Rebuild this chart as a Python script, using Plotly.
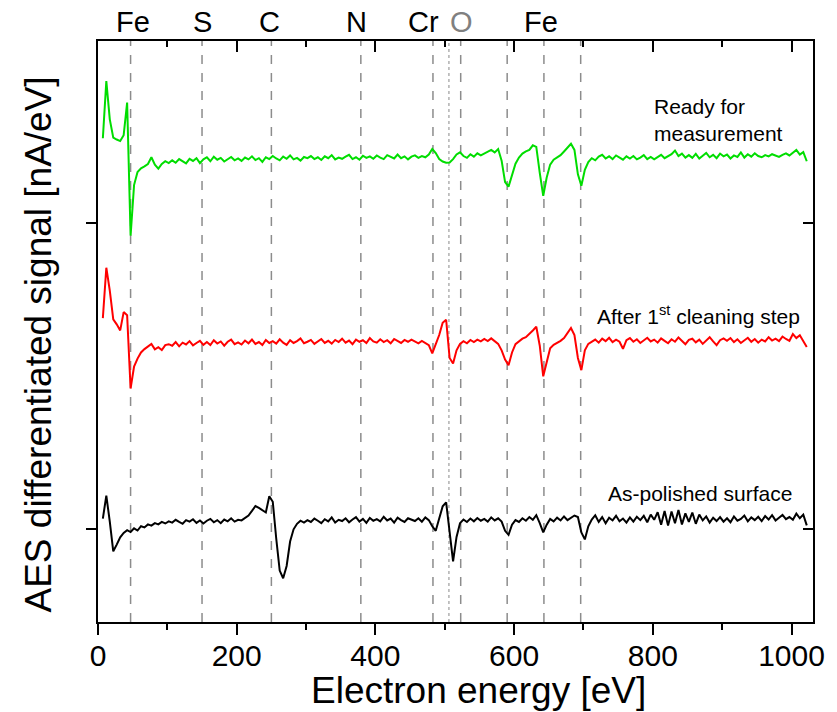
import plotly.graph_objects as go

# sampled electron energy [eV]
energy = [
    7, 12, 17, 22, 27, 32, 37, 42, 47, 52,
    57, 62, 67, 72, 77, 82, 87, 92, 97, 102,
    107, 112, 117, 122, 127, 132, 137, 142, 147, 152,
    157, 162, 167, 172, 177, 182, 187, 192, 197, 202,
    207, 212, 217, 222, 227, 232, 237, 242, 247, 252,
    257, 262, 267, 272, 277, 282, 287, 292, 297, 302,
    307, 312, 317, 322, 327, 332, 337, 342, 347, 352,
    357, 362, 367, 372, 377, 382, 387, 392, 397, 402,
    407, 412, 417, 422, 427, 432, 437, 442, 447, 452,
    457, 462, 467, 472, 477, 482, 487, 492, 497, 502,
    507, 512, 517, 522, 527, 532, 537, 542, 547, 552,
    557, 562, 567, 572, 577, 582, 587, 592, 597, 602,
    607, 612, 617, 622, 627, 632, 637, 642, 647, 652,
    657, 662, 667, 672, 677, 682, 687, 692, 697, 702,
    707, 712, 717, 722, 727, 732, 737, 742, 747, 752,
    757, 762, 767, 772, 777, 782, 787, 792, 797, 802,
    807, 812, 817, 822, 827, 832, 837, 842, 847, 852,
    857, 862, 867, 872, 877, 882, 887, 892, 897, 902,
    907, 912, 917, 922, 927, 932, 937, 942, 947, 952,
    957, 962, 967, 972, 977, 982, 987, 992, 997, 1002,
    1007, 1012, 1017, 1022,
]

# ready for measurement (offset, arb. units)
signal_ready = [
    127.8, 146.5, 134.0, 128.0, 127.4, 126.9, 128.8, 139.5, 96.0, 112.5,
    116.8, 118.0, 118.6, 119.4, 121.6, 119.2, 117.9, 119.4, 120.3, 119.7,
    120.6, 119.8, 121.0, 120.2, 119.6, 121.1, 120.4, 121.3, 119.7, 120.9,
    121.6, 120.3, 121.8, 120.8, 121.4, 120.2, 121.0, 121.7, 120.6, 121.2,
    120.4, 121.5, 120.9, 121.9, 120.7, 121.3, 120.1, 121.6, 121.0, 122.0,
    121.2, 120.6, 121.8, 121.1, 122.2, 120.9, 121.4, 120.5, 121.7, 121.3,
    122.0, 121.0, 121.6, 120.7, 121.9, 121.3, 122.3, 120.9, 121.5, 121.1,
    121.8, 122.4, 121.0, 121.6, 120.8, 122.1, 121.4, 121.9, 121.1, 122.2,
    121.5, 121.0, 122.3, 121.7, 121.2, 122.5, 121.3, 121.9, 120.9, 121.8,
    122.2, 121.4, 122.0, 121.6, 122.5, 124.3, 123.0, 121.0, 120.2, 119.8,
    119.9, 121.0, 122.5, 123.2, 122.0, 121.4, 122.6, 121.8, 122.9, 122.2,
    122.8, 123.5, 124.0, 123.2, 124.3, 120.5, 113.5, 112.0, 116.0, 119.5,
    121.5, 122.8, 123.5, 124.0, 125.5, 125.0, 116.5, 109.0, 115.0, 119.2,
    120.8, 121.6, 122.3, 123.5, 124.6, 126.0, 124.0, 116.0, 112.3, 117.5,
    120.0, 121.3, 120.6, 121.8, 122.4, 121.2, 121.9, 121.0, 122.2, 121.5,
    120.8, 121.9, 121.2, 122.0, 120.9, 121.5, 122.3, 121.0, 121.7, 120.9,
    121.8, 122.4, 121.3, 121.9, 122.6, 123.8, 122.0, 122.8, 121.5, 122.3,
    121.4, 122.7, 121.2, 122.1, 123.0, 121.6, 122.4, 121.3, 122.8, 121.9,
    122.5, 121.2, 122.2, 121.7, 123.2, 121.5, 122.6, 121.8, 122.9, 122.0,
    121.6, 122.3, 121.9, 122.6, 122.1, 121.7, 122.4, 122.9, 122.2, 123.0,
    124.0, 122.5, 123.3, 120.3,
]

# after 1st cleaning step
signal_cleaned = [
    69.0, 85.5, 78.0, 68.6, 67.0, 65.0, 71.0, 70.0, 46.0, 53.2,
    55.8, 57.8, 58.9, 59.9, 60.6, 58.8, 59.5, 58.6, 60.2, 60.5,
    60.0, 61.2, 59.8, 61.0, 60.4, 61.5, 60.1, 60.9, 61.6, 60.3,
    61.2, 60.2, 61.8, 60.7, 61.4, 60.0, 61.3, 62.0, 60.5, 61.1,
    60.4, 61.7, 60.8, 62.0, 60.6, 61.2, 60.2, 61.9, 60.9, 61.5,
    60.7, 62.1, 61.0, 60.3, 61.8, 60.9, 61.5, 62.4, 60.8, 61.3,
    61.9, 60.6, 61.4, 62.2, 60.9, 61.6, 60.7, 61.9, 61.2, 62.3,
    61.0, 61.7, 60.5, 62.0, 61.3, 61.8, 60.9, 62.5, 61.4, 61.0,
    62.1, 61.2, 61.8, 60.8, 62.2, 61.5, 60.9, 61.9, 61.3, 62.0,
    61.5, 60.8, 61.6, 61.0, 60.2, 57.5, 60.5, 63.5, 67.5, 68.5,
    56.0, 54.2, 58.5, 60.6, 61.5, 60.8, 61.9, 61.2, 62.0, 61.4,
    62.2, 61.5, 62.4, 61.6, 60.6, 58.5, 55.5, 53.6, 57.8, 60.5,
    61.5, 62.3, 62.8, 63.8, 65.0, 66.2, 60.0, 50.0, 55.0, 59.2,
    60.3, 60.9, 61.6, 62.5, 64.0, 65.8, 63.5, 56.0, 52.0, 58.5,
    60.6, 61.4, 62.0, 61.0, 62.3, 61.5, 62.6, 61.2, 62.0, 61.3,
    59.0, 61.8, 62.5, 61.3, 62.1, 60.9, 61.7, 62.6, 61.4, 62.0,
    61.0, 62.4, 61.6, 60.8, 62.1, 61.3, 62.7, 61.5, 60.5, 61.9,
    62.3, 61.1, 62.0, 60.6, 61.7, 62.8, 61.4, 60.2, 61.8, 62.4,
    61.6, 62.5, 61.2, 62.1, 60.9, 61.8, 62.6, 61.3, 62.2, 61.0,
    62.0, 61.4, 62.8, 61.7, 62.3, 61.5, 63.0, 62.2, 61.6, 63.8,
    62.5, 63.4, 61.5, 59.6,
]

# as-polished surface
signal_polished = [
    3.5, 11.0, 2.5, -7.2, -5.0, -2.6, -1.2, -0.3, -0.9, 0.3,
    -0.4, 1.0, 0.6, 1.6, 1.2, 2.0, 1.6, 2.4, 1.9, 2.6,
    2.2, 3.1, 2.4, 1.8, 3.0, 2.5, 3.3, 2.1, 2.9, 1.9,
    2.8, 3.4, 2.3, 3.0, 2.0, 3.2, 2.6, 3.6, 2.5, 3.1,
    2.9, 3.8, 4.5, 6.0, 7.6, 7.0, 6.2, 5.5, 10.8, 9.0,
    -3.0, -13.5, -16.0, -12.0, -4.0, 0.0, 1.8, 2.8, 2.2, 3.0,
    2.4, 3.5, 2.8, 2.0, 3.3, 2.6, 3.9, 2.2, 3.1, 2.7,
    3.6, 2.3, 3.2, 4.0, 2.5, 3.4, 2.1, 3.7, 2.8, 3.3,
    2.6, 4.1, 2.9, 3.5, 2.2, 3.8, 3.0, 2.4, 3.6, 3.1,
    2.7, 3.6, 2.5, 3.9, 3.0, 1.0, -0.5, 3.5, 7.5, 8.8,
    -1.0, -10.5, -2.5, 2.0, 3.2, 2.4, 3.5, 2.6, 3.7, 2.8,
    3.4, 2.5, 3.9, 2.9, 3.6, 2.5, -0.5, -1.8, 1.5, 3.0,
    2.4, 3.6, 2.8, 4.0, 3.1, 4.6, 2.0, -1.0, 1.5, 3.4,
    2.6, 3.8, 2.9, 4.2, 3.0, 3.7, 4.5, 4.0, -1.0, -3.3,
    1.0, 3.2, 4.6, 2.4, 4.0, 2.0, 3.8, 2.9, 4.4, 2.6,
    3.5, 2.2, 3.9, 2.5, 4.1, 3.0, 4.4, 2.3, 4.8, 3.1,
    5.6, 1.5, 6.0, 1.2, 5.8, 2.0, 6.3, 1.6, 5.2, 2.4,
    5.5, 1.8, 4.8, 2.9, 4.2, 2.2, 3.8, 2.7, 4.0, 2.5,
    3.6, 2.3, 4.2, 2.8, 3.4, 4.5, 2.6, 3.9, 3.0, 4.1,
    2.7, 4.3, 3.2, 4.6, 2.9, 3.8, 4.7, 3.3, 4.0, 3.1,
    5.1, 3.6, 4.8, 1.3,
]

# element reference lines [eV]
line_energies = [47, 150, 250, 379, 483, 523, 590, 643, 696]
oxygen_line = 506

# element labels on top
element_names = ["Fe", "S", "C", "N", "Cr", "O", "Fe"]
element_label_pos = [50, 150, 247, 373, 470, 524, 639]
element_colors = ["black", "black", "black", "black", "black", "#808080", "black"]

x_range = [0, 1031]
y_range = [-30.3, 159.6]
y_ticks = [0, 100]

FONT = "Arial, Liberation Sans, sans-serif"

fig = go.Figure()

for sig, col in [(signal_ready, "#00dd00"), (signal_cleaned, "#ff0000"), (signal_polished, "black")]:
    fig.add_trace(go.Scatter(x=energy, y=sig, mode="lines",
                             line=dict(color=col, width=2), hoverinfo="skip"))

# dummy trace so the mirrored (inside-tick) axes get drawn
fig.add_trace(go.Scatter(x=[None], y=[None], xaxis="x2", yaxis="y2", showlegend=False))

for e in line_energies:
    fig.add_shape(type="line", xref="x", yref="paper", x0=e, x1=e, y0=0, y1=1,
                  line=dict(color="#8c8c8c", width=1.5, dash="dash"), layer="below")
fig.add_shape(type="line", xref="x", yref="paper", x0=oxygen_line, x1=oxygen_line, y0=0, y1=1,
              line=dict(color="#b0b0b0", width=1.5, dash="dot"), layer="below")

for name, pos, col in zip(element_names, element_label_pos, element_colors):
    fig.add_annotation(x=pos, y=1.032, xref="x", yref="paper", text=name, showarrow=False,
                       font=dict(size=29, color=col, family=FONT), xanchor="center", yanchor="middle")

fig.add_annotation(x=799, y=0.8635, xref="x", yref="paper", text="Ready for<br>measurement",
                   showarrow=False, align="left", xanchor="left", yanchor="middle",
                   font=dict(size=21, color="black", family=FONT))
fig.add_annotation(x=716, y=0.528, xref="x", yref="paper", text="After 1<sup>st</sup> cleaning step",
                   showarrow=False, align="left", xanchor="left", yanchor="middle",
                   font=dict(size=21, color="black", family=FONT))
fig.add_annotation(x=732, y=0.2215, xref="x", yref="paper", text="As-polished surface",
                   showarrow=False, align="left", xanchor="left", yanchor="middle",
                   font=dict(size=21, color="black", family=FONT))

# axis titles
fig.add_annotation(x=0.532, y=-0.1176, xref="paper", yref="paper", text="Electron energy [eV]",
                   showarrow=False, xanchor="center", yanchor="middle",
                   font=dict(size=37, color="black", family=FONT))
fig.add_annotation(x=-0.0836, y=0.478, xref="paper", yref="paper", text="AES differentiated signal [nA/eV]",
                   showarrow=False, textangle=-90, xanchor="center", yanchor="middle",
                   font=dict(size=37, color="black", family=FONT))

fig.update_layout(
    width=837,
    height=712,
    margin=dict(l=98, r=18, t=41, b=90),
    plot_bgcolor="white",
    paper_bgcolor="white",
    showlegend=False,
    font=dict(family=FONT, color="black"),
    xaxis=dict(
        range=x_range, tick0=0, dtick=200, ticks="outside", ticklen=11, tickwidth=2,
        tickcolor="black", showline=True, linewidth=2, linecolor="black", mirror=True,
        showgrid=False, zeroline=False, tickfont=dict(size=30, family=FONT),
        ticklabelstandoff=-5,
        minor=dict(dtick=100, tick0=0, ticks="outside", ticklen=6, tickwidth=2, tickcolor="black"),
    ),
    yaxis=dict(
        range=y_range, tickvals=y_ticks, showticklabels=False, ticks="outside", ticklen=10,
        tickwidth=2, tickcolor="black", showline=True, linewidth=2, linecolor="black",
        mirror=True, showgrid=False, zeroline=False,
    ),
    xaxis2=dict(
        overlaying="x", side="top", anchor="y", range=x_range, tick0=0, dtick=200,
        ticks="inside", ticklen=11, tickwidth=2, tickcolor="black", showticklabels=False,
        showgrid=False, zeroline=False, showline=False,
        minor=dict(dtick=100, tick0=0, ticks="inside", ticklen=6, tickwidth=2, tickcolor="black"),
    ),
    yaxis2=dict(
        overlaying="y", side="right", anchor="x", range=y_range, tickvals=y_ticks,
        ticks="inside", ticklen=10, tickwidth=2, tickcolor="black", showticklabels=False,
        showgrid=False, zeroline=False, showline=False,
    ),
)

# drop the default 8px page margin so the figure sits at the window's corner
fig.write_html("out.html", config={"displayModeBar": False},
               post_script="document.body.style.margin='0';")
